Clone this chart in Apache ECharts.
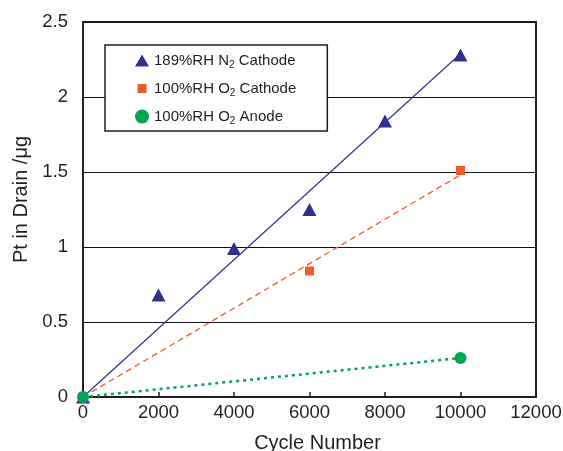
<!DOCTYPE html>
<html><head><meta charset="utf-8">
<script src="https://cdn.jsdelivr.net/npm/echarts@6/dist/echarts.min.js"></script>
<style>html,body{margin:0;padding:0;background:#fff}#c{width:563px;height:451px}</style>
</head><body><div id="c"></div>
<script>
const n2Cycles = [0, 2000, 4000, 6000, 8000, 10000];
const n2Values = [0, 0.68, 0.99, 1.25, 1.84, 2.28];
const o2CathCycles = [0, 6000, 10000];
const o2CathValues = [0, 0.84, 1.51];
const o2AnodeCycles = [0, 10000];
const o2AnodeValues = [0, 0.26];
const seriesNames = ['189%RH N2 Cathode', '100%RH O2 Cathode', '100%RH O2 Anode'];
const xTicks = [0, 2000, 4000, 6000, 8000, 10000, 12000];
const yTicks = [0, 0.5, 1, 1.5, 2, 2.5];

function pts(xs, ys){ return xs.map((x,i)=>[x, ys[i]]); }
// least-squares fit through origin, drawn from 0 to max x
function fit(xs, ys){
  let sxy=0, sxx=0;
  xs.forEach((x,i)=>{ sxy+=x*ys[i]; sxx+=x*x; });
  const k=sxy/sxx, xm=Math.max(...xs);
  return [[0,0],[xm,k*xm]];
}
const cBlue='#2e3192', cOrange='#f15a29', cGreen='#00a651', cText='#231f20';
const font='Liberation Sans, Arial, sans-serif';
// legend icons padded inside a 14x14 box so their visible sizes differ
const iconTri='path://M0,0M14,14M7,1L14,13L0,13Z';
const iconSq='path://M0,0M14,14M2.5,2.5L11.5,2.5L11.5,11.5L2.5,11.5Z';
const iconCirc='circle';
const chart = echarts.init(document.getElementById('c'), null, {renderer:'canvas'});
chart.setOption({
  animation:false,
  grid:{left:83, right:27, top:22, bottom:54, show:true, borderColor:cText, borderWidth:2,
    backgroundColor:'transparent', containLabel:false, outerBoundsMode:'none'},
  legend:{
    data:[{name:seriesNames[0], icon:iconTri},{name:seriesNames[1], icon:iconSq},{name:seriesNames[2], icon:iconCirc}],
    orient:'vertical', left:105, top:45,
    backgroundColor:'#fff', borderColor:cText, borderWidth:1.5,
    padding:[8,31,5,30], itemGap:11, itemWidth:14, itemHeight:14,
    formatter:n=>n.replace(/([NO])2/, '$1{s|2}'),
    textStyle:{fontFamily:font, fontSize:15, color:cText,
      rich:{s:{fontFamily:font, fontSize:10, color:cText, verticalAlign:'bottom', padding:[9,0,0,0]}}}
  },
  xAxis:{type:'value', min:0, max:12000, interval:2000,
    name:'Cycle Number', nameLocation:'middle', nameGap:36,
    nameTextStyle:{fontFamily:font, fontSize:20, color:cText, padding:[0,0,0,16]},
    axisLine:{lineStyle:{color:cText, width:2}},
    axisTick:{inside:true, length:5, lineStyle:{color:cText, width:1.5}},
    axisLabel:{fontFamily:font, fontSize:18.5, color:cText, margin:6, formatter:v=>String(v)},
    splitLine:{show:false}},
  yAxis:{type:'value', min:0, max:2.5, interval:0.5,
    name:'Pt in Drain /μg', nameLocation:'middle', nameGap:52,
    nameTextStyle:{fontFamily:font, fontSize:20, color:cText, padding:[0,0,0,20]},
    axisLine:{lineStyle:{color:cText, width:2}},
    axisTick:{show:false},
    axisLabel:{fontFamily:font, fontSize:18.5, color:cText, margin:15},
    splitLine:{show:true, lineStyle:{color:'#111', width:1}}},
  series:[
    {type:'line', data:fit(n2Cycles,n2Values), showSymbol:false, symbol:'none', silent:true,
     lineStyle:{color:cBlue, width:1.2}, z:2},
    {type:'line', data:fit(o2CathCycles,o2CathValues), showSymbol:false, symbol:'none', silent:true,
     lineStyle:{color:cOrange, width:1.3, type:[6,4]}, z:2},
    {type:'line', data:fit(o2AnodeCycles,o2AnodeValues), showSymbol:false, symbol:'none', silent:true,
     lineStyle:{color:cGreen, width:2.5, type:[3,4]}, z:2},
    {name:seriesNames[0], type:'scatter', data:pts(n2Cycles,n2Values), symbol:'triangle', symbolSize:[14,13],
     itemStyle:{color:cBlue, opacity:1}, clip:false, z:3},
    {name:seriesNames[1], type:'scatter', data:pts(o2CathCycles,o2CathValues), symbol:'rect', symbolSize:9,
     itemStyle:{color:cOrange, opacity:1}, clip:false, z:4},
    {name:seriesNames[2], type:'scatter', data:pts(o2AnodeCycles,o2AnodeValues), symbol:'circle', symbolSize:12,
     itemStyle:{color:cGreen, opacity:1}, clip:false, z:5}
  ]
});
</script></body></html>
